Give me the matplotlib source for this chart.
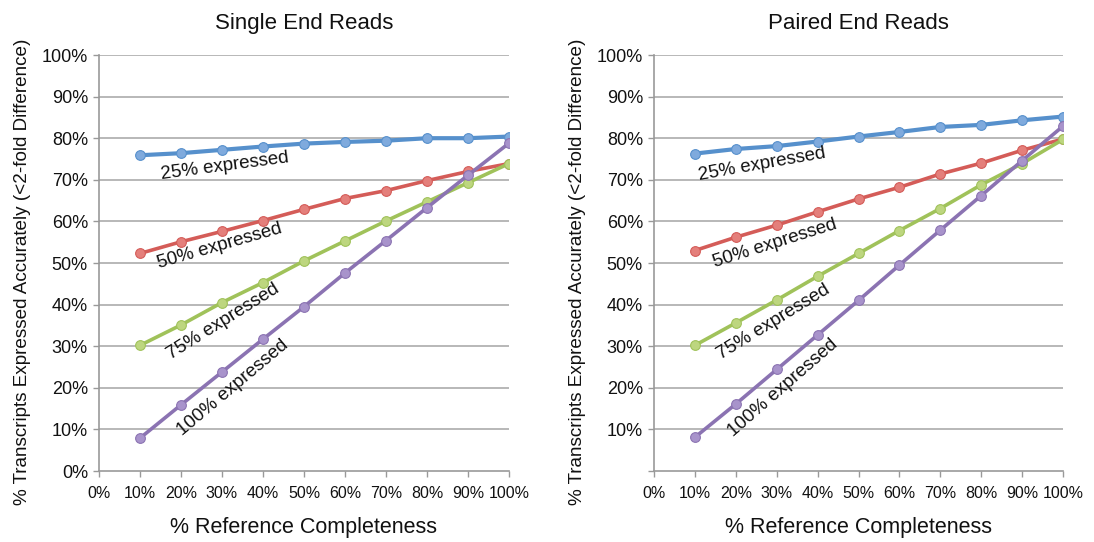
import matplotlib
matplotlib.use("Agg")
import matplotlib.pyplot as plt

plt.rcParams['font.family'] = ['Liberation Sans', 'DejaVu Sans']

completeness = [10, 20, 30, 40, 50, 60, 70, 80, 90, 100]
series_names = ["25% expressed", "50% expressed", "75% expressed", "100% expressed"]

single_25 = [75.9, 76.4, 77.2, 78.0, 78.7, 79.1, 79.4, 80.0, 80.0, 80.4]
single_50 = [52.3, 55.1, 57.6, 60.2, 62.9, 65.5, 67.4, 69.8, 72.0, 73.9]
single_75 = [30.2, 35.1, 40.5, 45.3, 50.5, 55.3, 60.1, 64.7, 69.3, 73.9]
single_100 = [7.9, 15.9, 23.8, 31.7, 39.5, 47.6, 55.4, 63.3, 71.1, 78.8]

paired_25 = [76.3, 77.4, 78.1, 79.2, 80.4, 81.5, 82.7, 83.2, 84.3, 85.2]
paired_50 = [53.0, 56.2, 59.1, 62.3, 65.4, 68.2, 71.4, 74.0, 77.1, 79.8]
paired_75 = [30.2, 35.6, 41.1, 46.8, 52.3, 57.8, 63.1, 68.8, 73.9, 79.7]
paired_100 = [8.1, 16.1, 24.4, 32.7, 41.0, 49.5, 57.9, 66.2, 74.6, 82.9]

x_ticks = [0, 10, 20, 30, 40, 50, 60, 70, 80, 90, 100]
x_tick_labels = ["0%", "10%", "20%", "30%", "40%", "50%", "60%", "70%", "80%", "90%", "100%"]
y_ticks_single = [0, 10, 20, 30, 40, 50, 60, 70, 80, 90, 100]
y_ticks_paired = [10, 20, 30, 40, 50, 60, 70, 80, 90, 100]

titles = ["Single End Reads", "Paired End Reads"]
x_label = "% Reference Completeness"
y_label = "% Transcripts Expressed Accurately (<2-fold Difference)"

line_colors = ["#5690CC", "#D45C58", "#A0C25A", "#8B73B2"]
face_colors = ["#7FAADD", "#E47F7B", "#BDD67F", "#A893CB"]
line_widths = [3.0, 2.6, 2.6, 2.6]

# label placement (data coords) and rotation
single_label_pos = [(30.6, 73.2, 7.5), (29.5, 54.1, 16), (30.2, 35.9, 32), (32.7, 20.0, 40)]
paired_label_pos = [(26.4, 73.6, 10), (29.6, 54.6, 17.5), (29.1, 35.7, 31.5), (31.5, 19.9, 41)]

fig = plt.figure(figsize=(10.94, 5.42), dpi=100)
ax1 = fig.add_axes([99 / 1094, 71 / 542, 410 / 1094, 416 / 542])
ax2 = fig.add_axes([654 / 1094, 71 / 542, 409 / 1094, 416 / 542])

panels = [
    (ax1, [single_25, single_50, single_75, single_100], single_label_pos, y_ticks_single,
     [f"{v}%" for v in y_ticks_single], titles[0]),
    (ax2, [paired_25, paired_50, paired_75, paired_100], paired_label_pos, [0] + y_ticks_paired,
     [""] + [f"{v}%" for v in y_ticks_paired], titles[1]),
]

for ax, data, label_pos, yt, ytl, title in panels:
    for vals, lc, fc, lw in zip(data, line_colors, face_colors, line_widths):
        ax.plot(completeness, vals, color=lc, lw=lw, marker="o", ms=7,
                mfc=fc, mec=lc, mew=0.8, solid_capstyle="round", zorder=3)
    for name, (tx, ty, rot) in zip(series_names, label_pos):
        ax.text(tx, ty, name, fontsize=13.5, rotation=rot, ha="center", va="center",
                rotation_mode="anchor", color="#111111", zorder=4)
    ax.set_xlim(0, 100)
    ax.set_ylim(0, 100)
    ax.set_xticks(x_ticks)
    ax.set_xticklabels(x_tick_labels, fontsize=11.5)
    ax.set_yticks(yt)
    ax.set_yticklabels(ytl, fontsize=13)
    for v in yt:
        if v > 0:
            ax.axhline(v, color="#ABABAB", lw=1.2, zorder=1)
    ax.spines['top'].set_visible(False)
    ax.spines['right'].set_visible(False)
    ax.spines['left'].set_color("#999999")
    ax.spines['bottom'].set_color("#999999")
    ax.spines['left'].set_linewidth(1.2)
    ax.spines['bottom'].set_linewidth(1.2)
    ax.tick_params(axis="both", colors="#999999", labelcolor="#111111",
                   length=4, width=1.0, direction="out")
    ax.tick_params(axis="x", pad=7)
    ax.tick_params(axis="y", pad=4)
    ax.set_title(title, fontsize=16, pad=19, color="#111111")
    ax.set_xlabel(x_label, fontsize=15.5, labelpad=11, color="#111111")
    ax.set_ylabel(y_label, fontsize=13.6, color="#111111")
    ax.yaxis.set_label_coords(-0.166, 0.478)

fig.savefig("out.png", dpi=100, facecolor="white")
